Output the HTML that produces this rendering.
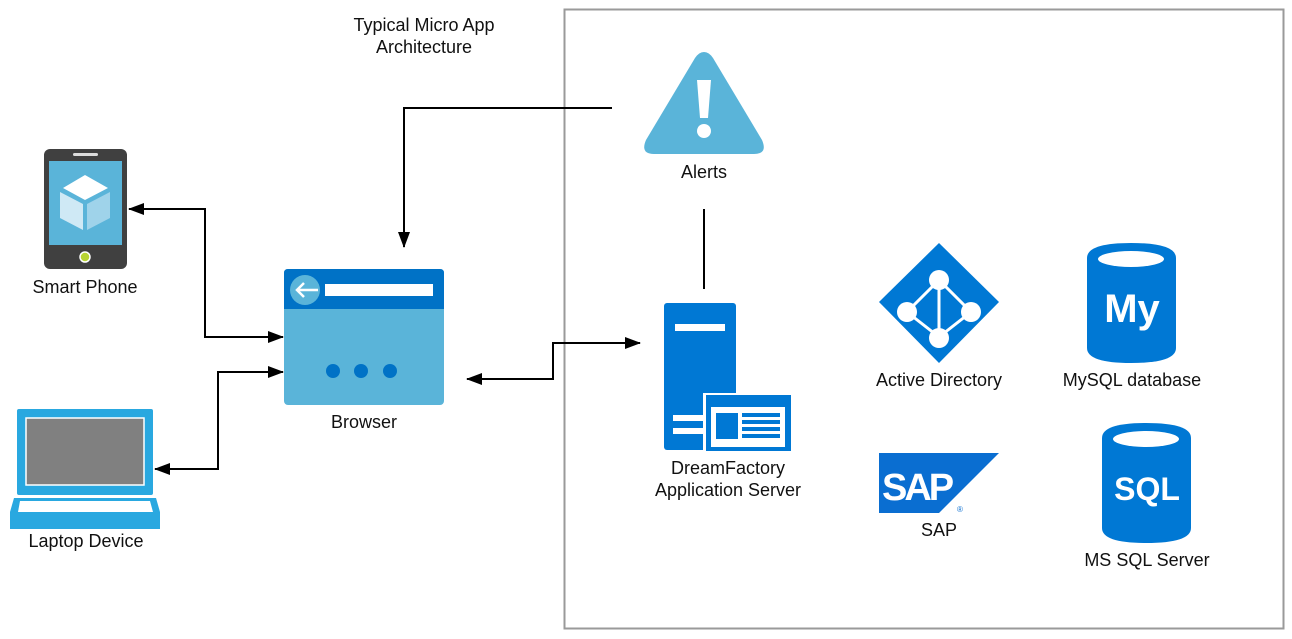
<!DOCTYPE html>
<html><head><meta charset="utf-8"><style>
html,body{margin:0;padding:0;background:#fff;}
svg{display:block;}
text{font-family:"Liberation Sans",Arial,sans-serif;font-size:18px;fill:#111;}
</style></head><body>
<svg width="1292" height="639" viewBox="0 0 1292 639" xmlns="http://www.w3.org/2000/svg">
<defs>
<marker id="ah" markerWidth="16" markerHeight="12" refX="15" refY="6" orient="auto" markerUnits="userSpaceOnUse">
<path d="M0,0 L16,6 L0,12 z" fill="#000"/>
</marker>
</defs>
<rect x="564.5" y="9.5" width="719" height="619" fill="none" stroke="#9a9a9a" stroke-width="2"/>
<text x="424" y="31" text-anchor="middle">Typical Micro App</text>
<text x="424" y="53" text-anchor="middle">Architecture</text>

<!-- connectors -->
<g fill="none" stroke="#000" stroke-width="2">
<polyline points="612,108 404,108 404,247" marker-end="url(#ah)"/>
<line x1="704" y1="209" x2="704" y2="289"/>
<polyline points="283,337 205,337 205,209 129,209" marker-end="url(#ah)"/>
<polyline points="205,337 283,337" marker-end="url(#ah)"/>
<polyline points="283,372 218,372 218,469 155,469" marker-end="url(#ah)"/>
<polyline points="218,372 283,372" marker-end="url(#ah)"/>
<polyline points="640,343 553,343 553,379 467,379" marker-end="url(#ah)"/>
<polyline points="553,343 640,343" marker-end="url(#ah)"/>
</g>

<!-- alerts -->
<path d="M704,52 Q709,52 713,58 L762,140 Q768,154 754,154 L654,154 Q640,154 646,140 L695,58 Q699,52 704,52 z" fill="#5ab4d9"/>
<path d="M697,80 L711,80 L708,118 L700,118 z" fill="#fff"/>
<circle cx="704" cy="131" r="7" fill="#fff"/>
<text x="704" y="178" text-anchor="middle">Alerts</text>

<!-- phone -->
<rect x="44" y="149" width="83" height="120" rx="6" fill="#404040"/>
<rect x="73" y="153" width="25" height="3" rx="1.5" fill="#ddd"/>
<rect x="49" y="161" width="73" height="84" fill="#5ab4d9"/>
<path d="M85,175 L108,188 L85,200 L63,188 z" fill="#fff"/>
<path d="M60,192 L83,204 L83,230 L60,218 z" fill="#cfe9f5"/>
<path d="M87,204 L110,192 L110,218 L87,230 z" fill="#9fd3ea"/>
<circle cx="85" cy="257" r="5" fill="#b8d432" stroke="#fff" stroke-width="1.5"/>
<text x="85" y="293" text-anchor="middle">Smart Phone</text>

<!-- laptop -->
<rect x="17" y="409" width="136" height="86" rx="2" fill="#29a8e0"/>
<rect x="26" y="418" width="118" height="67" fill="#808080" stroke="#fff" stroke-width="1.5"/>
<path d="M14,498 L156,498 L160,512 L160,529 L10,529 L10,512 z" fill="#29a8e0"/>
<path d="M20,501 L150,501 L153,512 L18,512 z" fill="#fff"/>
<text x="86" y="547" text-anchor="middle">Laptop Device</text>

<!-- browser -->
<rect x="284" y="269" width="160" height="136" rx="4" fill="#5ab4d9"/>
<path d="M284,309 L284,273 Q284,269 288,269 L440,269 Q444,269 444,273 L444,309 z" fill="#0072c6"/>
<circle cx="305" cy="290" r="15" fill="#5ab4d9"/>
<path d="M297,290 L318,290 M304,283 L297,290 L304,297" stroke="#fff" stroke-width="2.5" fill="none"/>
<rect x="325" y="284" width="108" height="12" fill="#fff"/>
<circle cx="333" cy="371" r="7" fill="#0072c6"/>
<circle cx="361" cy="371" r="7" fill="#0072c6"/>
<circle cx="390" cy="371" r="7" fill="#0072c6"/>
<text x="364" y="428" text-anchor="middle">Browser</text>

<!-- server -->
<rect x="664" y="303" width="72" height="147" rx="3" fill="#0078d4"/>
<rect x="675" y="324" width="50" height="7" fill="#fff"/>
<rect x="673" y="415" width="30" height="6" fill="#fff"/>
<rect x="673" y="428" width="30" height="6" fill="#fff"/>
<rect x="703" y="393" width="90" height="58" fill="#fff"/>
<rect x="706" y="395" width="85" height="56" fill="#0078d4"/>
<rect x="711" y="407" width="74" height="40" fill="#fff"/>
<rect x="716" y="413" width="22" height="26" fill="#0078d4"/>
<rect x="742" y="413" width="38" height="4" fill="#0078d4"/>
<rect x="742" y="420" width="38" height="4" fill="#0078d4"/>
<rect x="742" y="427" width="38" height="4" fill="#0078d4"/>
<rect x="742" y="434" width="38" height="4" fill="#0078d4"/>
<text x="728" y="474" text-anchor="middle">DreamFactory</text>
<text x="728" y="496" text-anchor="middle">Application Server</text>

<!-- active directory -->
<path d="M939,243 L999,302 L939,363 L879,302 z" fill="#0078d4"/>
<g stroke="#fff" stroke-width="3" fill="none">
<path d="M939,280 L907,312 L939,337 L971,312 z M939,280 L939,337"/>
</g>
<circle cx="939" cy="280" r="10" fill="#fff"/>
<circle cx="907" cy="312" r="10" fill="#fff"/>
<circle cx="971" cy="312" r="10" fill="#fff"/>
<circle cx="939" cy="338" r="10" fill="#fff"/>
<text x="939" y="386" text-anchor="middle">Active Directory</text>

<!-- MySQL -->
<path d="M1087,258 Q1087,243 1131,243 Q1176,243 1176,258 L1176,348 Q1176,363 1131,363 Q1087,363 1087,348 z" fill="#0078d4"/>
<ellipse cx="1131" cy="259" rx="33" ry="8" fill="#fff"/>
<text x="1132" y="322" text-anchor="middle" style="font-size:40px;font-weight:bold;fill:#fff">My</text>
<text x="1132" y="386" text-anchor="middle">MySQL database</text>

<!-- SAP -->
<path d="M879,453 L999,453 L939,513 L879,513 z" fill="#0a6ed1"/>
<text x="882" y="500" style="font-size:38px;font-weight:bold;fill:#fff;letter-spacing:-3px">SAP</text>
<text x="957" y="512" style="font-size:8px;fill:#0a6ed1">®</text>
<text x="939" y="536" text-anchor="middle">SAP</text>

<!-- MS SQL -->
<path d="M1102,438 Q1102,423 1146,423 Q1191,423 1191,438 L1191,528 Q1191,543 1146,543 Q1102,543 1102,528 z" fill="#0078d4"/>
<ellipse cx="1146" cy="439" rx="33" ry="8" fill="#fff"/>
<text x="1147" y="500" text-anchor="middle" style="font-size:32px;font-weight:bold;fill:#fff">SQL</text>
<text x="1147" y="566" text-anchor="middle">MS SQL Server</text>
</svg>
</body></html>
